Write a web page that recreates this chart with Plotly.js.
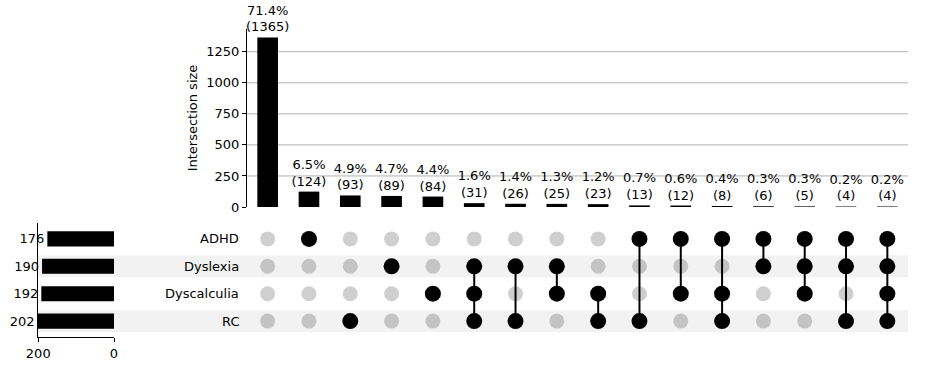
<!DOCTYPE html>
<html><head><meta charset="utf-8">
<script src="https://cdn.plot.ly/plotly-3.0.1.min.js"></script>
<style>html,body{margin:0;padding:0;background:#fff}</style>
</head><body><div id="chart" style="width:930px;height:381px"></div>
<script>
// ---- data ----
const setNames = ['ADHD', 'Dyslexia', 'Dyscalculia', 'RC'];
const setSizes = [176, 190, 192, 202];
const intersectionSizes = [1365, 124, 93, 89, 84, 31, 26, 25, 23, 13, 12, 8, 6, 5, 4, 4];
const memberADHD        = [0,1,0,0,0,0,0,0,0,1,1,1,1,1,1,1];
const memberDyslexia    = [0,0,0,1,0,1,1,1,0,0,0,0,1,1,1,1];
const memberDyscalculia = [0,0,0,0,1,1,0,1,1,0,1,1,0,1,0,1];
const memberRC          = [0,0,1,0,0,1,1,0,1,1,0,1,0,0,1,1];
const yTicks = [0, 250, 500, 750, 1000, 1250];
const totalsTicks = [0, 200];

// ---- helpers ----
const W = 930, H = 381;
const px = x => x / W;
const py = y => 1 - y / H;
const members = [memberADHD, memberDyslexia, memberDyscalculia, memberRC];
const rowOf = k => setNames.length - 1 - k;
const cols = intersectionSizes.map((_, i) => i);
const total = intersectionSizes.reduce((a, b) => a + b, 0);
const barText = intersectionSizes.map(v => (100 * v / total).toFixed(1) + '%<br>(' + v + ')');

const grayX = [], grayY = [], blackX = [], blackY = [], lineX = [], lineY = [];
cols.forEach(c => {
  const rows = [];
  members.forEach((m, k) => {
    if (m[c]) { blackX.push(c); blackY.push(rowOf(k)); rows.push(rowOf(k)); }
    else { grayX.push(c); grayY.push(rowOf(k)); }
  });
  if (rows.length > 1) {
    lineX.push(c, c, null);
    lineY.push(Math.min(...rows), Math.max(...rows), null);
  }
});

const font = {family: 'DejaVu Sans, sans-serif', size: 13, color: '#000'};

const traces = [
  {type: 'bar', x: cols, y: intersectionSizes, xaxis: 'x', yaxis: 'y', width: 0.5,
   marker: {color: '#000'}, text: barText, textposition: 'outside', cliponaxis: false,
   constraintext: 'none', textfont: font, hoverinfo: 'skip'},
  {type: 'scatter', mode: 'markers', x: grayX, y: grayY, xaxis: 'x2', yaxis: 'y2',
   marker: {size: 15, color: 'rgba(0,0,0,0.19)'}, hoverinfo: 'skip'},
  {type: 'scatter', mode: 'lines', x: lineX, y: lineY, xaxis: 'x2', yaxis: 'y2',
   line: {color: '#000', width: 2}, hoverinfo: 'skip'},
  {type: 'scatter', mode: 'markers', x: blackX, y: blackY, xaxis: 'x2', yaxis: 'y2',
   marker: {size: 16, color: '#000'}, hoverinfo: 'skip'},
  {type: 'bar', orientation: 'h', x: setSizes, y: setNames.map((_, k) => rowOf(k)),
   xaxis: 'x3', yaxis: 'y3', width: 0.55, marker: {color: '#000'},
   text: setSizes.map(String), textposition: 'outside', cliponaxis: false,
   constraintext: 'none', textfont: font, hoverinfo: 'skip'}
];

const shapes = [];
setNames.forEach((_, k) => {
  if (k % 2 === 1) {
    shapes.push({type: 'rect', xref: 'paper', yref: 'y2', x0: px(38), x1: px(908),
      y0: rowOf(k) - 0.4, y1: rowOf(k) + 0.4, fillcolor: '#f2f2f2', line: {width: 0}, layer: 'below'});
  }
});
yTicks.filter(v => v > 0).forEach(v => {
  shapes.push({type: 'line', xref: 'paper', yref: 'y', x0: px(247), x1: px(908), y0: v, y1: v,
    line: {color: '#b0b0b0', width: 1}, layer: 'below'});
});

const annotations = setNames.map((name, k) => ({
  text: name, xref: 'paper', yref: 'y2', x: px(241), y: rowOf(k),
  xanchor: 'right', yanchor: 'middle', showarrow: false, font: font
}));

const layout = {
  width: W, height: H, margin: {l: 0, r: 0, t: 0, b: 0},
  paper_bgcolor: '#fff', plot_bgcolor: 'rgba(0,0,0,0)', showlegend: false, font: font,
  xaxis: {domain: [px(247), px(908)], range: [-0.5, 15.5], anchor: 'y', showticklabels: false,
    showgrid: false, zeroline: false, ticks: ''},
  yaxis: {domain: [py(207), py(29)], range: [0, 1433], anchor: 'x', tickvals: yTicks,
    showline: true, linecolor: '#000', linewidth: 1, ticks: 'outside', ticklen: 4, tickcolor: '#000',
    showgrid: false, zeroline: false, tickfont: font,
    title: {text: 'Intersection size', font: font, standoff: 5}},
  xaxis2: {domain: [px(247), px(908)], range: [-0.5, 15.5], anchor: 'y2', visible: false},
  yaxis2: {domain: [py(337), py(223)], range: [-0.58, 3.58], anchor: 'x2', visible: false},
  xaxis3: {domain: [px(37.5), px(114)], range: [202, 0], anchor: 'y3', tickvals: totalsTicks,
    showline: true, linecolor: '#000', linewidth: 1, ticks: 'outside', ticklen: 4, tickcolor: '#000',
    showgrid: false, zeroline: false, tickfont: font},
  yaxis3: {domain: [py(337), py(223)], range: [-0.58, 3.58], anchor: 'x3', showline: true,
    linecolor: '#000', linewidth: 1, showticklabels: false, ticks: '', showgrid: false, zeroline: false},
  shapes: shapes, annotations: annotations
};

Plotly.newPlot('chart', traces, layout, {displayModeBar: false, staticPlot: true});
</script></body></html>
